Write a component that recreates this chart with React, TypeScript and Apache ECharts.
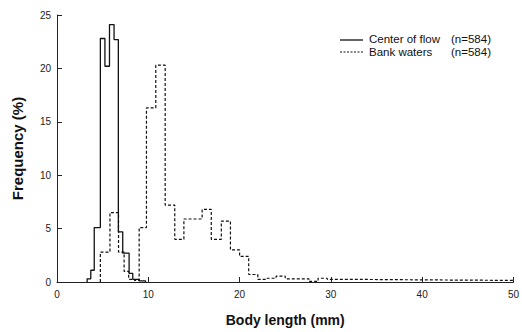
import React, { useEffect, useRef } from "react";
import * as echarts from "echarts";

// Center of flow (solid): bin edges (mm) and frequencies (%)
const centerEdges = [3.3, 3.7, 4.08, 4.75, 5.25, 5.75, 6.25, 6.72, 7.2, 7.9, 8.3, 9.0, 9.7];
const centerFreq = [0.3, 1.1, 5.1, 22.8, 20.2, 24.1, 22.7, 4.7, 2.7, 0.8, 0.25, 0.1];

// Bank waters (dashed)
const bankEdges = [4.75, 5.8, 6.74, 7.35, 7.85, 8.5, 9.0, 9.8, 10.82, 11.85, 12.9, 13.9, 15.9, 16.9, 18.0, 19.0, 20.0, 21.0, 22.0, 23.0, 24.0, 25.0, 27.6, 28.6, 29.6, 32.0, 40.0, 50.0];
const bankFreq = [2.8, 6.5, 2.8, 1.0, 0.25, 0.15, 5.1, 16.3, 20.3, 7.2, 4.0, 5.9, 6.8, 4.0, 5.7, 3.0, 2.4, 0.7, 0.25, 0.35, 0.55, 0.3, 0.05, 0.35, 0.25, 0.2, 0.15];

const legendNames = ["Center of flow", "Bank waters"];
const legendCounts = ["(n=584)", "(n=584)"];

const FONT = '"Liberation Sans", Arial, Helvetica, sans-serif';

function toSteps(edges: number[], freq: number[]) {
  const pts: number[][] = [[edges[0], 0]];
  for (let i = 0; i < freq.length; i++) pts.push([edges[i], freq[i]]);
  pts.push([edges[edges.length - 1], 0]);
  return pts;
}

export default function App() {
  const ref = useRef<HTMLDivElement>(null);
  useEffect(() => {
    if (!ref.current) return;
    const chart = echarts.init(ref.current, null, { renderer: "svg" });
    chart.setOption({
      animation: false,
      backgroundColor: "#ffffff",
      grid: { left: 57, right: 5, top: 15, bottom: 41 },
      xAxis: {
        type: "value",
        min: 0,
        max: 50,
        interval: 10,
        name: "Body length (mm)",
        nameLocation: "middle",
        nameGap: 31,
        nameTextStyle: { fontFamily: FONT, fontWeight: "bold", fontSize: 14, color: "#111" },
        axisLine: { lineStyle: { color: "#222", width: 1 } },
        axisTick: { inside: true, length: 5, lineStyle: { color: "#222" } },
        axisLabel: { fontFamily: FONT, fontSize: 10, color: "#222", margin: 7 },
        splitLine: { show: false },
      },
      yAxis: {
        type: "value",
        min: 0,
        max: 25,
        interval: 5,
        name: "Frequency (%)",
        nameLocation: "middle",
        nameRotate: 90,
        nameGap: 32,
        nameTextStyle: { fontFamily: FONT, fontWeight: "bold", fontSize: 15, color: "#111" },
        axisLine: { show: true, lineStyle: { color: "#222", width: 1 } },
        axisTick: { show: true, inside: true, length: 5, lineStyle: { color: "#222" } },
        axisLabel: { fontFamily: FONT, fontSize: 10, color: "#222", margin: 6 },
        splitLine: { show: false },
      },
      series: [
        {
          name: legendNames[0],
          type: "line",
          step: "end",
          symbol: "none",
          data: toSteps(centerEdges, centerFreq),
          lineStyle: { color: "#111", width: 1.3 },
          z: 3,
        },
        {
          name: legendNames[1],
          type: "line",
          step: "end",
          symbol: "none",
          data: toSteps(bankEdges, bankFreq),
          lineStyle: { color: "#111", width: 1.2, type: [3, 2] },
          z: 2,
        },
      ],
      graphic: [
        { type: "line", shape: { x1: 340, y1: 40, x2: 363, y2: 40 }, style: { stroke: "#111", lineWidth: 1.3 } },
        { type: "line", shape: { x1: 340, y1: 52, x2: 363, y2: 52 }, style: { stroke: "#111", lineWidth: 1.1, lineDash: [2, 1.5] } },
        { type: "text", x: 369, y: 39, style: { text: legendNames[0], font: `11.5px ${FONT}`, fill: "#111", verticalAlign: "middle" } },
        { type: "text", x: 451, y: 39, style: { text: legendCounts[0], font: `11.5px ${FONT}`, fill: "#111", verticalAlign: "middle" } },
        { type: "text", x: 369, y: 52, style: { text: legendNames[1], font: `11.5px ${FONT}`, fill: "#111", verticalAlign: "middle" } },
        { type: "text", x: 451, y: 52, style: { text: legendCounts[1], font: `11.5px ${FONT}`, fill: "#111", verticalAlign: "middle" } },
      ],
    });
    return () => chart.dispose();
  }, []);
  return <div ref={ref} style={{ position: "fixed", left: 0, top: 0, width: 522, height: 332 }} />;
}
